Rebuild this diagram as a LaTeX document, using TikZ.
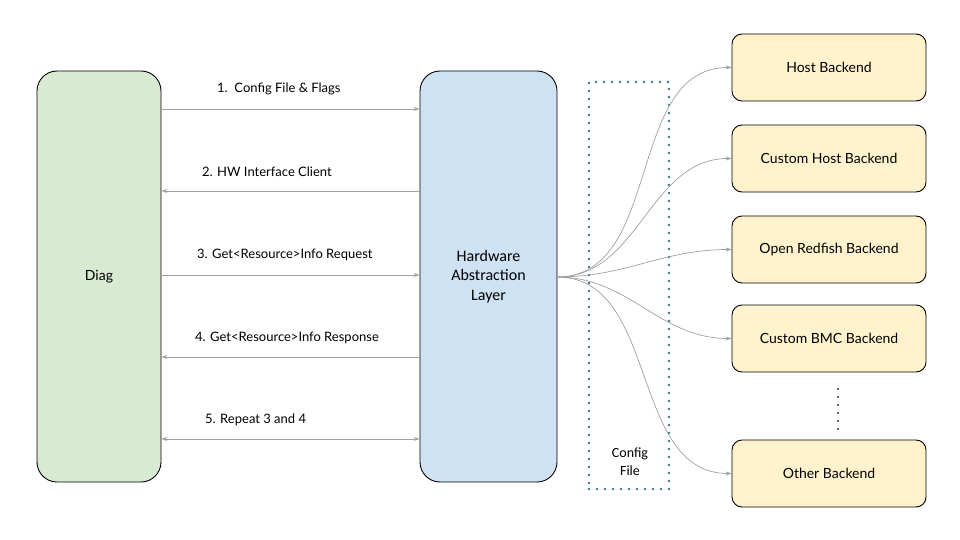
\documentclass[tikz,border=0pt]{standalone}
\usepackage{fontspec}
\setmainfont{Lato}
\newfontfamily\calfont{Carlito}
\usetikzlibrary{arrows.meta}
\definecolor{diaggreen}{HTML}{D9EAD3}
\definecolor{halblue}{HTML}{CFE2F3}
\definecolor{beyellow}{HTML}{FFF2CC}
\definecolor{arrgray}{HTML}{A0A0A0}
\definecolor{dotteal}{HTML}{3A7684}
\tikzset{
  bigbox/.style={draw=black, line width=0.9pt, rounded corners=20pt, inner sep=0pt},
  bebox/.style={draw=black, line width=0.9pt, fill=beyellow, rounded corners=10pt,
    minimum width=194pt, minimum height=67pt, inner sep=0pt, font=\fontsize{14}{16}\selectfont},
  arr/.style={draw=arrgray, line width=0.8pt, -{Stealth[length=6pt,width=4pt]}},
  barr/.style={draw=arrgray, line width=0.8pt, {Stealth[length=6pt,width=4pt]}-{Stealth[length=6pt,width=4pt]}},
  lbl/.style={anchor=west, inner sep=0pt, font=\fontsize{13}{15}\selectfont},
  fan/.style={draw=arrgray, line width=0.7pt, -{Stealth[length=6pt,width=4pt]}, out=0, in=180}
}
\begin{document}
\begin{tikzpicture}[x=1pt,y=-1pt]
\useasboundingbox (0,0) rectangle (960,540);
\fill[white] (0,0) rectangle (960,540);

\node[bigbox, fill=diaggreen, minimum width=124pt, minimum height=411pt, font=\fontsize{14}{16}\selectfont] (diag) at (99,276.5) {Diag};
\node[bigbox, fill=halblue, minimum width=137pt, minimum height=411pt, align=center, font=\calfont\fontsize{16}{19.5}\selectfont] (hal) at (488.5,276.5) {Hardware\\Abstraction\\Layer};

\node[bebox] (host) at (829,67.5) {Host Backend};
\node[bebox] (chost) at (829,158.5) {Custom Host Backend};
\node[bebox] (redfish) at (829,249.5) {Open Redfish Backend};
\node[bebox] (cbmc) at (829,338.5) {Custom BMC Backend};
\node[bebox] (other) at (829,473.5) {Other Backend};

% config file dotted box
\node[draw=dotteal, line width=2.6pt, dash pattern=on 0pt off 8pt, line cap=round,
  minimum width=80pt, minimum height=407pt, inner sep=0pt] (cfg) at (629,285.5) {};
\node[align=center, font=\calfont\fontsize{14}{18}\selectfont] (cfgtxt) at (630,462) {Config\\File};

% ellipsis dots
\foreach \yy in {389,397,405,413,421,429}
  \fill[black!80] (838,\yy) circle (1.1pt);

% horizontal arrows
\coordinate (y1) at (0,109);
\coordinate (y2) at (0,191);
\coordinate (y3) at (0,275);
\coordinate (y4) at (0,357);
\coordinate (y5) at (0,439);
\draw[arr] (diag.east |- y1) -- (hal.west |- y1);
\draw[arr] (hal.west |- y2) -- (diag.east |- y2);
\draw[arr] (diag.east |- y3) -- (hal.west |- y3);
\draw[arr] (hal.west |- y4) -- (diag.east |- y4);
\draw[barr] (diag.east |- y5) -- (hal.west |- y5);

\node[lbl] (l1) at (217,89) {1.\ \ Config File \& Flags};
\node[lbl] (l2) at (202,172) {2. HW Interface Client};
\node[lbl] (l3) at (197,255) {3. Get<Resource>Info Request};
\node[lbl] (l4) at (195,338) {4. Get<Resource>Info Response};
\node[lbl] (l5) at (205,420) {5. Repeat 3 and 4};

% fan out
\coordinate (fo) at (557,277);
\draw[fan] (fo) to (host.west);
\draw[fan] (fo) to (chost.west);
\draw[fan] (fo) to (redfish.west);
\draw[fan] (fo) to (cbmc.west);
\draw[fan] (fo) to (other.west);
\end{tikzpicture}
\end{document}
